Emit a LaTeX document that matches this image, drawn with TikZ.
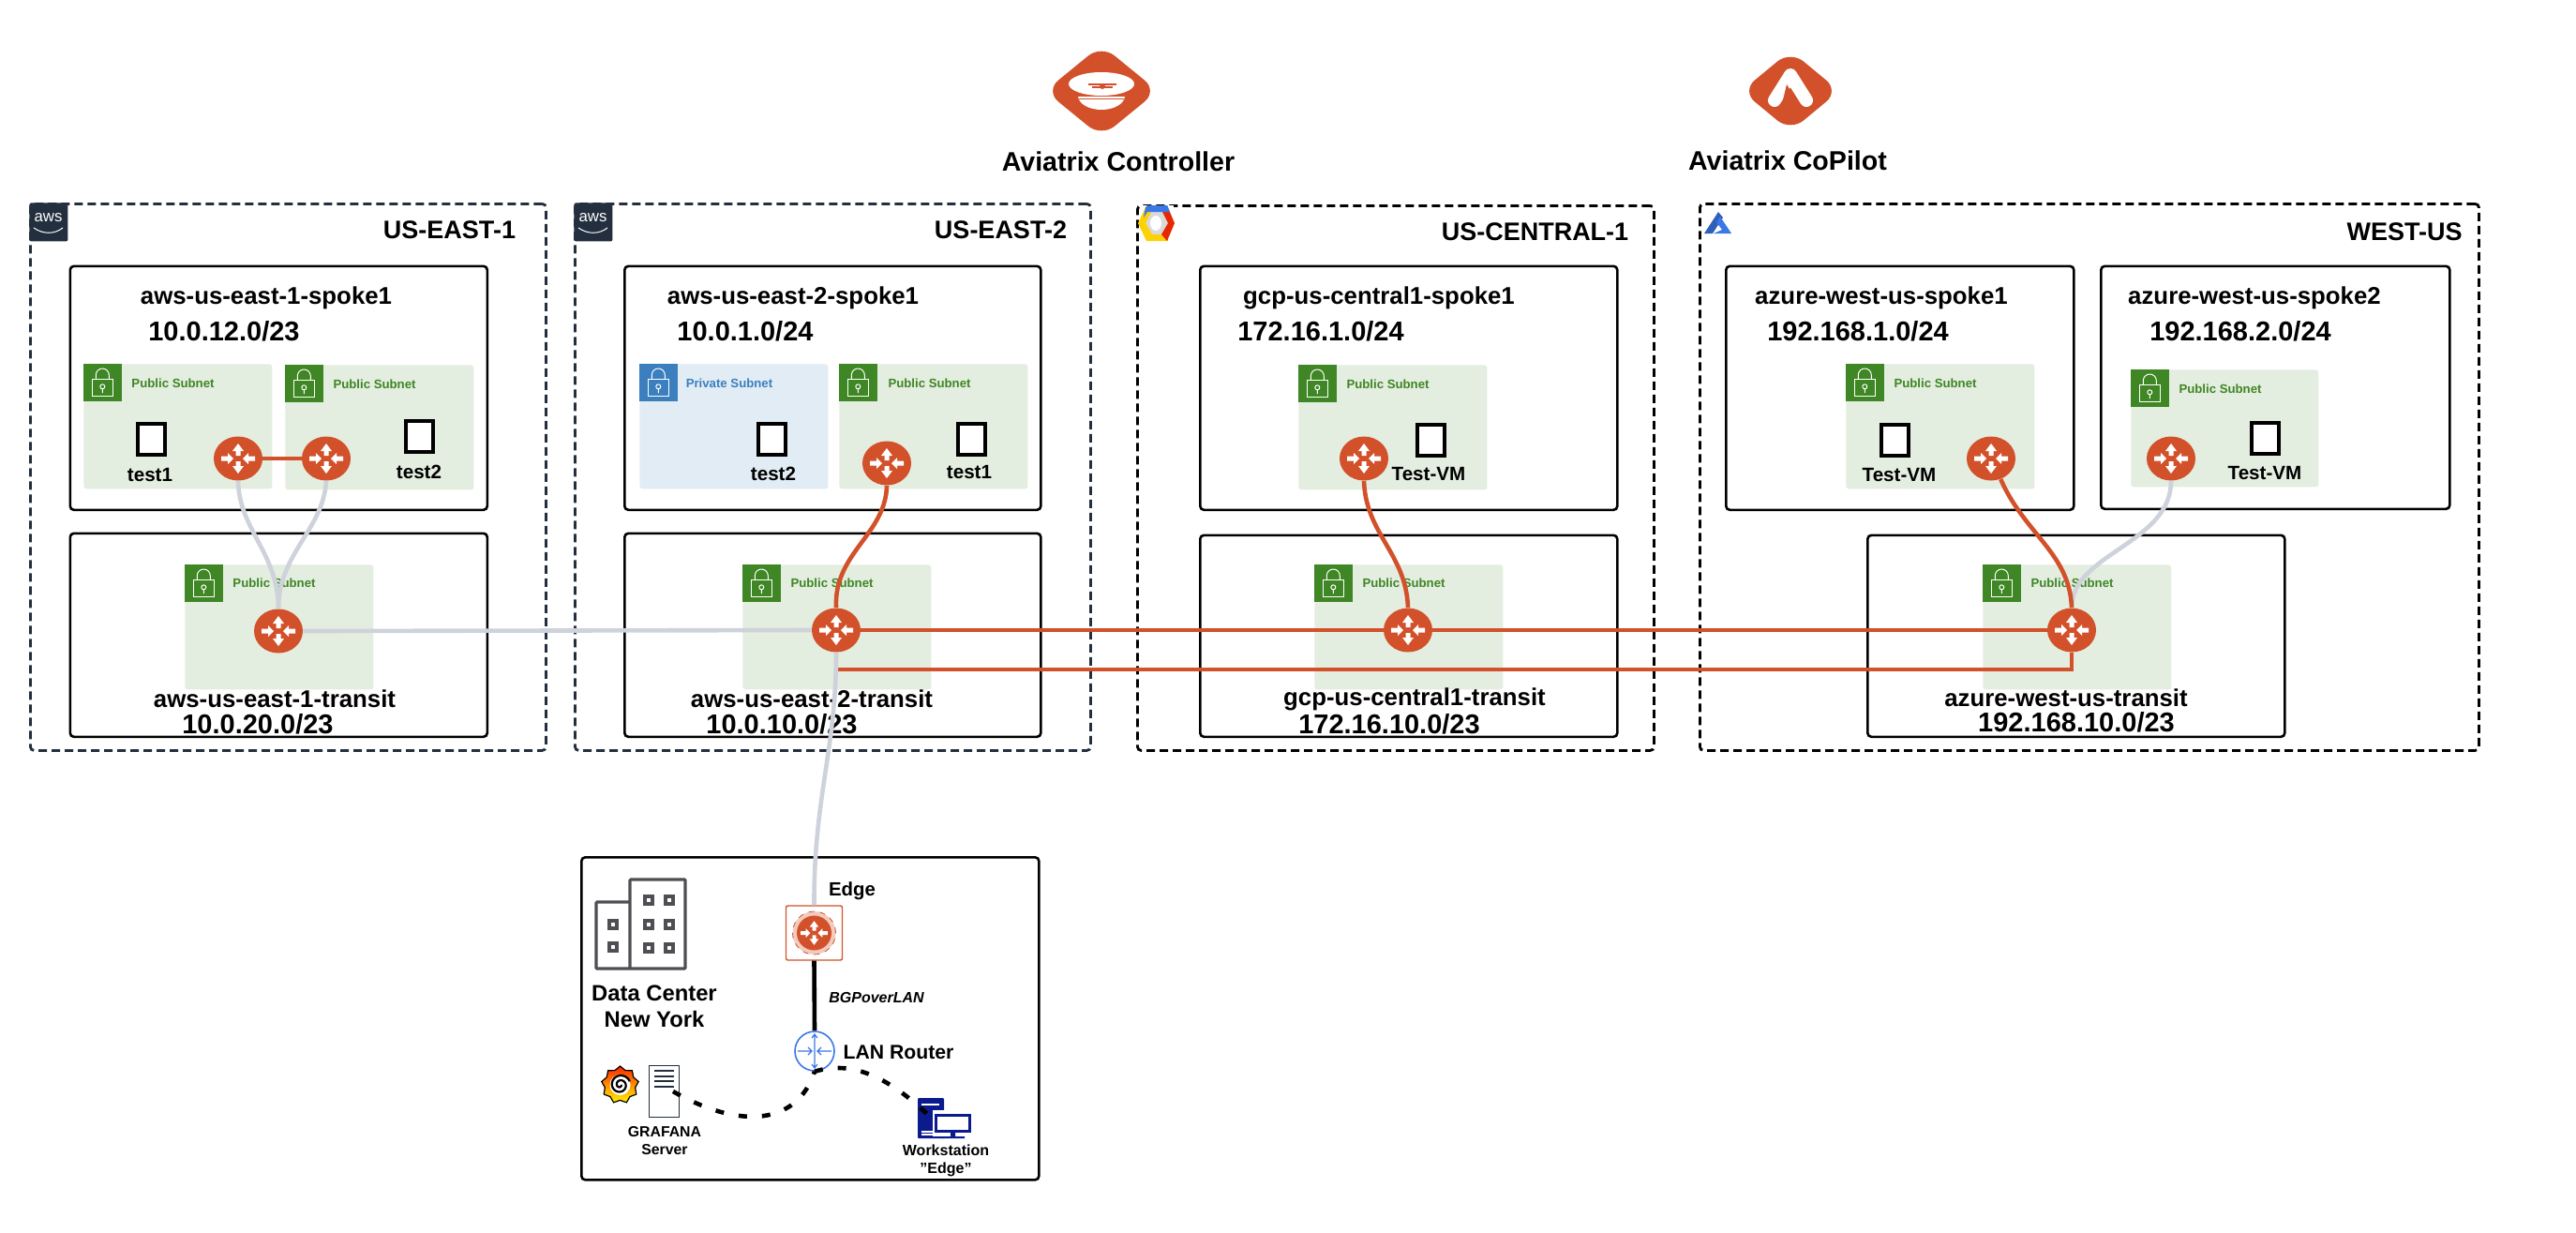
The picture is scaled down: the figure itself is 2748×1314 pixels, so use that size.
\documentclass[tikz,border=0pt]{standalone}
\usepackage{fontspec}
\setmainfont{Liberation Sans}
\usetikzlibrary{shapes.geometric}
\definecolor{avxorange}{HTML}{D2512A}
\definecolor{linkgray}{HTML}{CED2DB}
\definecolor{awsdark}{HTML}{232F3E}
\definecolor{subgreen}{HTML}{3F8624}
\definecolor{subgreenbg}{HTML}{E3EDE0}
\definecolor{subblue}{HTML}{3B7FBF}
\definecolor{subbluebg}{HTML}{E1ECF4}
\definecolor{lanblue}{HTML}{3B78E7}
\definecolor{wsnavy}{HTML}{0B1A8C}
\definecolor{bldgray}{HTML}{4D4F53}
\newcommand{\routerglyph}[2]{%
  \begin{scope}[shift={(#1.center)},scale=#2]
    \fill[white] (0,-16)--(6,-8)--(2.5,-8)--(2.5,-3)--(-2.5,-3)--(-2.5,-8)--(-6,-8)--cycle;
    \fill[white] (0,16)--(6,8)--(2.5,8)--(2.5,3)--(-2.5,3)--(-2.5,8)--(-6,8)--cycle;
    \fill[white] (-5,0)--(-11,-6)--(-11,-2.5)--(-18,-2.5)--(-18,2.5)--(-11,2.5)--(-11,6)--cycle;
    \fill[white] (5,0)--(11,-6)--(11,-2.5)--(18,-2.5)--(18,2.5)--(11,2.5)--(11,6)--cycle;
  \end{scope}}
\newcommand{\lockglyph}[2]{%
  \begin{scope}[shift={(#1.north west)}]
    \fill[#2] (0,0) rectangle (41,40);
    \draw[white,line width=0.5pt] (9.3,16) rectangle (31.3,34.3);
    \draw[white,line width=0.5pt] (13.3,16) -- (13.3,12) arc[start angle=180,end angle=360,radius=7] -- (27.3,16);
    \draw[white,line width=0.5pt] (20.3,24.3) circle (2.5) (20.3,26.8) -- (20.3,31);
  \end{scope}}
\begin{document}
\begin{tikzpicture}[
    x=0.5pt,y=-0.5pt,
    sized/.style 2 args={minimum width=#1*0.5pt,minimum height=#2*0.5pt},
    region/.style={draw=awsdark,line width=1.4pt,dash pattern=on 4.5pt off 2.5pt,rounded corners=2pt,
        anchor=north west,inner sep=0pt},
    vpcbox/.style={draw=black,line width=1.3pt,rounded corners=2pt,anchor=north west,inner sep=0pt},
    pubnet/.style={fill=subgreenbg,rounded corners=1.5pt,anchor=north west,inner sep=0pt,sized={201}{133}},
    privnet/.style={fill=subbluebg,rounded corners=1.5pt,anchor=north west,inner sep=0pt,sized={201}{133}},
    publabel/.style={text=subgreen,font=\fontsize{6.6}{8}\selectfont\bfseries,inner sep=0pt},
    privlabel/.style={text=subblue,font=\fontsize{6.6}{8}\selectfont\bfseries,inner sep=0pt},
    router/.style={ellipse,fill=avxorange,inner sep=0pt,sized={52}{47}},
    vmbox/.style={draw=black,fill=white,line width=2pt,inner sep=0pt,sized={29}{33}},
    vmlabel/.style={font=\fontsize{10.3}{12}\selectfont\bfseries,inner sep=0pt},
    regionlabel/.style={font=\fontsize{13.5}{16}\selectfont\bfseries,inner sep=0pt},
    vpclabel/.style={font=\fontsize{12.9}{15}\selectfont\bfseries,inner sep=0pt},
    cidrlabel/.style={font=\fontsize{14.5}{17}\selectfont\bfseries,inner sep=0pt},
    toplabel/.style={font=\fontsize{14.3}{17}\selectfont\bfseries,inner sep=0pt},
    awsbadge/.style={fill=awsdark,anchor=north west,inner sep=0pt,sized={41}{41},rounded corners=1pt},
    graylink/.style={draw=linkgray,line width=2.3pt},
    orangelink/.style={draw=avxorange,line width=2.3pt},
    lanlink/.style={draw=black,line width=2.3pt,dash pattern=on 4.5pt off 8pt}
    ]
    \useasboundingbox (0,0) rectangle (2748,1314);

    % logos on top
    \fill[avxorange,rounded corners=9pt] (1175,48) -- (1235,97) -- (1175,146) -- (1115,97) -- cycle;
    \fill[white] (1175,89.5) ellipse (35 and 12.5);
    \fill[white] (1200,102) arc[start angle=0,end angle=180,x radius=25,y radius=15] -- cycle;
    \draw[avxorange,line width=0.5pt] (1150,102) -- (1200,102) (1151,105) -- (1199,105);
    \draw[avxorange,line width=0.7pt] (1161,90) -- (1191,90) (1165,93) -- (1187,93);
    \fill[avxorange] (1176,92) circle (3);
    \fill[avxorange,rounded corners=9pt] (1910,54) -- (1962,97) -- (1910,140) -- (1858,97) -- cycle;
    \draw[white,line width=7pt,line cap=round,line join=round] (1893,107) -- (1910,80) -- (1927,107);
    \fill[avxorange] (1906,90) -- (1900,115) -- (1921,115) -- cycle;
    \node[toplabel] (ctrl) at (1193,172.5) {Aviatrix Controller};
    \node[toplabel] (copilot) at (1907,171) {Aviatrix CoPilot};

    % regions
    \node[region,sized={550}{583}] (regA) at (31,216) {};
    \node[region,sized={550}{583}] (regB) at (612,216) {};
    \node[region,draw=black,sized={551}{581}] (regC) at (1212,218) {};
    \node[region,draw=black,sized={831}{583}] (regD) at (1812,216) {};
    \node[regionlabel] (regAtxt) at (479.5,245) {US-EAST-1};
    \node[regionlabel] (regBtxt) at (1067.5,245) {US-EAST-2};
    \node[regionlabel] (regCtxt) at (1637.5,247) {US-CENTRAL-1};
    \node[regionlabel] (regDtxt) at (2565,247) {WEST-US};

    % cloud badges
    \node[awsbadge] (awsA) at (31,216) {};
    \node[awsbadge] (awsB) at (612,216) {};
    \node[text=white,font=\fontsize{8.4}{10}\selectfont,inner sep=0pt] (awsAtxt) at (51.5,232) {aws};
    \node[text=white,font=\fontsize{8.4}{10}\selectfont,inner sep=0pt] (awsBtxt) at (632.5,232) {aws};
    \draw[white,line width=0.5pt] (36,243) .. controls (46,250) and (58,250) .. (67,243);
    \draw[white,line width=0.5pt] (617,243) .. controls (627,250) and (639,250) .. (648,243);
    \fill[white] (1216,219) rectangle (1252,257);
    \fill[gray!30] (1224,226) -- (1243,226) -- (1249,238) -- (1243,250) -- (1224,250) -- (1218,238) -- cycle;
    \fill[white] (1233,238) ellipse (6 and 8);
    \fill[yellow!70!orange] (1214,238) -- (1222,221) -- (1228,226) -- (1222,238) -- (1229,250) -- (1243,250) -- (1246,257) -- (1223,257) -- cycle;
    \fill[red!65!orange!90!black] (1253,238) -- (1245,219) -- (1240,226) -- (1246,238) -- (1239,250) -- (1245,257) -- cycle;
    \fill[lanblue] (1222,221) -- (1224,219) -- (1245,219) -- (1248,226) -- (1224,226) -- (1220,232) -- cycle;
    \fill[lanblue!80!black] (1833,226) -- (1818,249) -- (1827,249) -- (1838,232) -- cycle;
    \fill[lanblue] (1835,231) -- (1847,249) -- (1828,249) -- (1837,245) -- (1831,237) -- cycle;

    % vpc boxes
    \node[vpcbox,sized={445}{260}] (spkA) at (73.5,282.5) {};
    \node[vpcbox,sized={445}{217}] (trnA) at (73.5,567.5) {};
    \node[vpcbox,sized={444}{260}] (spkB) at (665,282.5) {};
    \node[vpcbox,sized={444}{217}] (trnB) at (665,567.5) {};
    \node[vpcbox,sized={445}{260}] (spkC) at (1279,282.5) {};
    \node[vpcbox,sized={445}{215}] (trnC) at (1279,569.5) {};
    \node[vpcbox,sized={371}{260}] (spkD) at (1840,282.5) {};
    \node[vpcbox,sized={372}{259}] (spkE) at (2240,282.5) {};
    \node[vpcbox,sized={445}{215}] (trnD) at (1991,569.5) {};
    \node[vpcbox,sized={488}{344}] (dcbox) at (619,913) {};

    % subnets
    \node[pubnet] (subA) at (89,388) {}; \lockglyph{subA}{subgreen}
    \node[pubnet] (subAa) at (304,389) {}; \lockglyph{subAa}{subgreen}
    \node[pubnet] (subAt) at (197,602) {}; \lockglyph{subAt}{subgreen}
    \node[privnet] (subB) at (682,388) {}; \lockglyph{subB}{subblue}
    \node[pubnet] (subBa) at (895,388) {}; \lockglyph{subBa}{subgreen}
    \node[pubnet] (subBt) at (792,602) {}; \lockglyph{subBt}{subgreen}
    \node[pubnet] (subC) at (1385,389) {}; \lockglyph{subC}{subgreen}
    \node[pubnet] (subCt) at (1402,602) {}; \lockglyph{subCt}{subgreen}
    \node[pubnet] (subD) at (1969,388) {}; \lockglyph{subD}{subgreen}
    \node[pubnet,sized={200}{125}] (subE) at (2273,394) {}; \lockglyph{subE}{subgreen}
    \node[pubnet] (subDt) at (2115,602) {}; \lockglyph{subDt}{subgreen}
    \node[publabel] (subAtxt) at (184.5,409) {Public Subnet};
    \node[publabel] (subAatxt) at (399.5,410) {Public Subnet};
    \node[publabel] (subAttxt) at (292.5,622) {Public Subnet};
    \node[privlabel] (subBtxt) at (778,409) {Private Subnet};
    \node[publabel] (subBatxt) at (991.5,409) {Public Subnet};
    \node[publabel] (subBttxt) at (887.5,622) {Public Subnet};
    \node[publabel] (subCtxt) at (1480.5,410) {Public Subnet};
    \node[publabel] (subCttxt) at (1497.5,622) {Public Subnet};
    \node[publabel] (subDtxt) at (2064.5,409) {Public Subnet};
    \node[publabel] (subEtxt) at (2368.5,415) {Public Subnet};
    \node[publabel] (subDttxt) at (2210.5,622) {Public Subnet};

    % names and cidrs
    \node[vpclabel] (spkAtxt) at (284,317.5) {aws-us-east-1-spoke1};
    \node[cidrlabel] (spkAnet) at (239,353.5) {10.0.12.0/23};
    \node[vpclabel] (trnAtxt) at (293,745.5) {aws-us-east-1-transit};
    \node[cidrlabel] (trnAnet) at (275,772) {10.0.20.0/23};
    \node[vpclabel] (spkBtxt) at (846,317.5) {aws-us-east-2-spoke1};
    \node[cidrlabel] (spkBnet) at (795,353.5) {10.0.1.0/24};
    \node[vpclabel] (trnBtxt) at (866,745.5) {aws-us-east-2-transit};
    \node[cidrlabel] (trnBnet) at (834,772) {10.0.10.0/23};
    \node[vpclabel] (spkCtxt) at (1471,317.5) {gcp-us-central1-spoke1};
    \node[cidrlabel] (spkCnet) at (1409,353.5) {172.16.1.0/24};
    \node[vpclabel] (trnCtxt) at (1509,745.5) {gcp-us-central1-transit};
    \node[cidrlabel] (trnCnet) at (1482,772) {172.16.10.0/23};
    \node[vpclabel] (spkDtxt) at (2007,317.5) {azure-west-us-spoke1};
    \node[cidrlabel] (spkDnet) at (1982,353) {192.168.1.0/24};
    \node[vpclabel] (spkEtxt) at (2405,317.5) {azure-west-us-spoke2};
    \node[cidrlabel] (spkEnet) at (2390,353.5) {192.168.2.0/24};
    \node[vpclabel] (trnDtxt) at (2204,744) {azure-west-us-transit};
    \node[cidrlabel] (trnDnet) at (2215,770) {192.168.10.0/23};

    % vms
    \node[vmbox] (vmA) at (161.5,468.5) {};
    \node[vmbox] (vmAa) at (447.5,465.5) {};
    \node[vmbox] (vmB) at (823.5,468) {};
    \node[vmbox] (vmBa) at (1036.5,468) {};
    \node[vmbox] (vmC) at (1526.5,469.5) {};
    \node[vmbox] (vmD) at (2021.5,469.5) {};
    \node[vmbox] (vmE) at (2416,467) {};
    \node[vmlabel] (vmAtxt) at (160,506) {test1};
    \node[vmlabel] (vmAatxt) at (447,503) {test2};
    \node[vmlabel] (vmBtxt) at (825,505) {test2};
    \node[vmlabel] (vmBatxt) at (1034,503.5) {test1};
    \node[vmlabel] (vmCtxt) at (1524,505) {Test-VM};
    \node[vmlabel] (vmDtxt) at (2026,506) {Test-VM};
    \node[vmlabel] (vmEtxt) at (2416,504) {Test-VM};

    % gateways
    \node[router] (rA) at (254,489) {}; \routerglyph{rA}{1}
    \node[router] (rAa) at (348,489) {}; \routerglyph{rAa}{1}
    \node[router] (rAt) at (297,673) {}; \routerglyph{rAt}{1}
    \node[router] (rB) at (946,494) {}; \routerglyph{rB}{1}
    \node[router] (rBt) at (892,672) {}; \routerglyph{rBt}{1}
    \node[router] (rC) at (1455,489) {}; \routerglyph{rC}{1}
    \node[router] (rCt) at (1502,672) {}; \routerglyph{rCt}{1}
    \node[router] (rD) at (2124,489) {}; \routerglyph{rD}{1}
    \node[router] (rE) at (2316,489) {}; \routerglyph{rE}{1}
    \node[router] (rDt) at (2210,672) {}; \routerglyph{rDt}{1}

    % data center
    \draw[bldgray,line width=1.6pt,rounded corners=0.5pt] (672,962) -- (636,962) -- (636,1033) -- (731,1033) -- (731,938) -- (672,938) -- (672,1033);
    \draw[bldgray,line width=1.7pt] (650,982) rectangle (658,990) (650,1006) rectangle (658,1014)
        (688,956) rectangle (696,964) (710,956) rectangle (718,964)
        (688,982) rectangle (696,990) (710,982) rectangle (718,990)
        (688,1007) rectangle (696,1015) (710,1007) rectangle (718,1015);
    \node[align=center,font=\fontsize{11.9}{14.2}\selectfont\bfseries,inner sep=0pt] (dctxt) at (698,1073.5) {Data Center\\New York};
    \node[draw=avxorange,fill=white,line width=0.7pt,rounded corners=1pt,inner sep=0pt,sized={60}{58}] (edge) at (868.5,995) {};
    \node[circle,draw=avxorange,fill=avxorange!30,dashed,line width=0.4pt,inner sep=0pt,sized={46}{46}] (edgering) at (edge) {};
    \node[ellipse,fill=avxorange,inner sep=0pt,sized={37}{37}] (edgert) at (edge) {}; \routerglyph{edgert}{0.8}
    \node[font=\fontsize{10.2}{12}\selectfont\bfseries,inner sep=0pt] (edgetxt) at (909,950) {Edge};
    \node[font=\fontsize{8}{10}\selectfont\bfseries\itshape,inner sep=0pt] (bgptxt) at (935,1064) {BGPoverLAN};
    \node[circle,draw=lanblue,fill=white,line width=0.8pt,inner sep=0pt,sized={42}{42}] (lan) at (869,1121) {};
    \draw[lanblue,line width=0.6pt,shift={(lan.center)}]
        (0,-18) -- (0,18) (-18,0) -- (-3,0) (18,0) -- (3,0)
        (-3,-14) -- (0,-18) -- (3,-14) (-3,14) -- (0,18) -- (3,14)
        (-7,-4) -- (-3,0) -- (-7,4) (7,-4) -- (3,0) -- (7,4);
    \node[font=\fontsize{10.6}{12}\selectfont\bfseries,inner sep=0pt] (lantxt) at (958.5,1122) {LAN Router};

    % grafana server
    \node[star,star points=9,star point ratio=1.22,draw=black,line width=0.6pt,inner sep=0pt,sized={40}{40},
        top color=red!70!orange,bottom color=yellow!90!orange] (graf) at (661.5,1157) {};
    \fill[white] (661.5,1157) circle (11);
    \draw[black,line width=1.1pt] plot[domain=0:700,samples=50] ({661.5+(1+\x/70)*cos(\x)},{1157+(1+\x/70)*sin(\x)});
    \node[draw=awsdark,fill=white,line width=0.8pt,inner sep=0pt,sized={32}{55}] (srv) at (708.5,1164) {};
    \draw[awsdark,line width=0.8pt] (698,1142) -- (719,1142) (698,1148) -- (719,1148) (698,1153) -- (719,1153) (698,1159) -- (719,1159);
    \coordinate (srvport) at (718,1164);
    \node[align=center,font=\fontsize{7.9}{9.8}\selectfont\bfseries,inner sep=0pt] (srvtxt) at (709,1216.5) {GRAFANA\\Server};

    % workstation
    \fill[wsnavy,rounded corners=0.5pt] (979,1171) rectangle (1007,1214);
    \draw[white,line width=0.6pt] (983,1178) -- (1002,1178) (983,1207) -- (995,1207) (983,1210) -- (995,1210);
    \node[fill=white,inner sep=0pt,sized={44}{28}] (wsback) at (1016.5,1198) {};
    \node[draw=wsnavy,fill=white,line width=1.3pt,inner sep=0pt,sized={36}{17}] (wsmon) at (1016.5,1198) {};
    \fill[wsnavy] (1014,1208) rectangle (1019,1212) (1004,1212) rectangle (1029,1214);
    \coordinate (wsport) at (993,1192);
    \node[align=center,font=\fontsize{8}{9.8}\selectfont\bfseries,inner sep=0pt] (wstxt) at (1009,1238) {Workstation\\"Edge"};

    % links
    \draw[orangelink] (rA) -- (rAa);
    \draw[graylink] (rA.south) .. controls (255,565) and (297,590) .. (rAt.north);
    \draw[graylink] (rAa.south) .. controls (345,565) and (297,590) .. (rAt.north);
    \draw[graylink] (rAt.east) -- (rBt.west);
    \draw[orangelink] (rB.south) .. controls (945,570) and (889,590) .. (rBt.north);
    \draw[orangelink] (rBt.east) -- (rCt.west);
    \draw[orangelink] (rCt.east) -- (rDt.west);
    \coordinate (busB) at (892,714);
    \draw[orangelink] (rBt.south) -- (busB) -| (rDt.south);
    \draw[orangelink] (rC.south) .. controls (1457,570) and (1500,590) .. (rCt.north);
    \draw[graylink] (rE.south) .. controls (2316,580) and (2210,590) .. (rDt.north);
    \draw[orangelink] (rD.-65) .. controls (2160,570) and (2208,590) .. (rDt.north);
    \draw[graylink] (rBt.south) .. controls (892,800) and (868,850) .. (edge.north);
    \draw[draw=black,line width=2.3pt] (edge.south) -- (lan.north);
    \draw[lanlink] (srvport) .. controls (790,1205) and (850,1200) .. (lan.south);
    \draw[lanlink] (lan.south) .. controls (910,1130) and (950,1150) .. (wsport);
\end{tikzpicture}
\end{document}
